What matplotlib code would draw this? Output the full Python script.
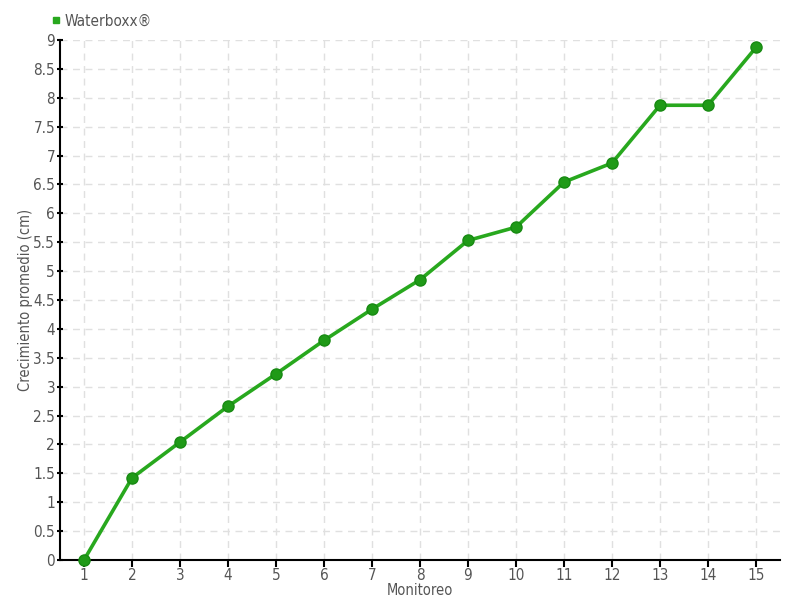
import matplotlib
matplotlib.use("Agg")
import matplotlib.pyplot as plt
from matplotlib.lines import Line2D

monitoreo = list(range(1, 16))
crecimiento = [0, 1.42, 2.04, 2.66, 3.22, 3.80, 4.34, 4.85, 5.53, 5.76, 6.54, 6.87, 7.87, 7.87, 8.87]
series_name = "Waterboxx®"
y_ticks = [i * 0.5 for i in range(19)]
y_tick_labels = ["0", "0.5", "1", "1.5", "2", "2.5", "3", "3.5", "4", "4.5", "5", "5.5",
                 "6", "6.5", "7", "7.5", "8", "8.5", "9"]

plt.rcParams["font.family"] = ["DejaVu Sans"]
plt.rcParams["font.stretch"] = "condensed"
txt = "#555555"

fig = plt.figure(figsize=(8, 6), dpi=100)
ax = fig.add_axes([0.075, 0.0667, 0.9, 0.8667])

ax.plot(monitoreo, crecimiento, color="#28a81e", lw=2.6, zorder=3,
        marker="o", markersize=8, markerfacecolor="#1f9a17", markeredgecolor="#178a12",
        markeredgewidth=1, clip_on=False)

ax.set_xlim(0.5, 15.5)
ax.set_ylim(0, 9)
ax.set_xticks(monitoreo)
ax.set_xticklabels([str(m) for m in monitoreo])
ax.set_yticks(y_ticks)
ax.set_yticklabels(y_tick_labels)

ax.grid(True, color="#e0e0e0", linestyle=(0, (5, 4)), linewidth=1)
ax.set_axisbelow(True)
for s in ["top", "right"]:
    ax.spines[s].set_visible(False)
ax.spines["left"].set_linewidth(1.5)
ax.spines["bottom"].set_linewidth(1.5)
ax.tick_params(axis="y", direction="inout", length=5, width=1.5, labelsize=11, labelcolor=txt, pad=1)
ax.tick_params(axis="x", direction="out", length=5, width=1.5, labelsize=11, labelcolor=txt, pad=1)

ax.set_xlabel("Monitoreo", fontsize=10.5, color=txt, labelpad=0)
ax.set_ylabel("Crecimiento promedio (cm)", fontsize=10.5, color=txt, labelpad=0)

handle = Line2D([], [], marker="s", color="#28a81e", linestyle="none", markersize=5)
fig.legend([handle], [series_name], loc="upper left", bbox_to_anchor=(0.052, 0.995),
           frameon=False, fontsize=11, handlelength=0.5, handletextpad=0.3,
           labelcolor=txt, borderpad=0.2)

fig.savefig("out.png", dpi=100)
